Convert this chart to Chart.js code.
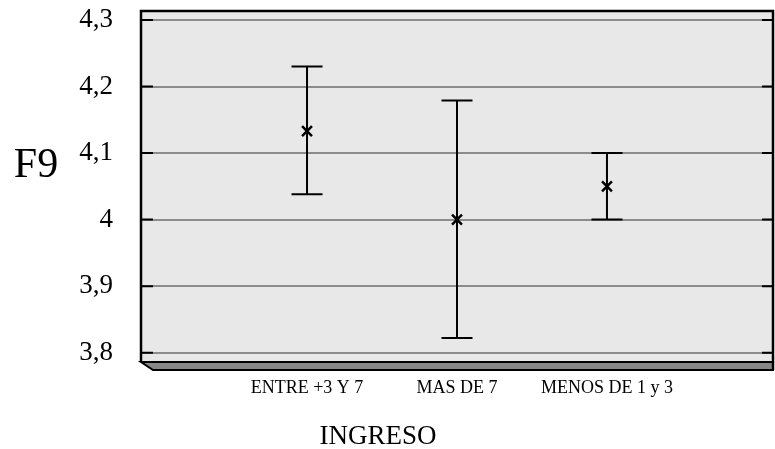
<!DOCTYPE html>
<html>
<head>
<meta charset="utf-8">
<script src="https://cdn.jsdelivr.net/npm/chart.js@4/dist/chart.umd.min.js"></script>
<style>
  html, body { margin: 0; padding: 0; background: #fff; }
  canvas { display: block; }
</style>
</head>
<body>
<canvas id="chart" width="775" height="449"></canvas>
<script>
// data
const categories = ['ENTRE +3 Y 7', 'MAS DE 7', 'MENOS DE 1 y 3'];
const means = [4.133, 4.0, 4.05];
const upper = [4.23, 4.179, 4.1];
const lower = [4.038, 3.822, 4.0];
const yTicks = [3.8, 3.9, 4.0, 4.1, 4.2, 4.3];
const yTickLabels = ['3,8', '3,9', '4', '4,1', '4,2', '4,3'];
const yTitle = 'F9';
const xTitle = 'INGRESO';

const FONT = '"Liberation Serif", "Times New Roman", serif';

// plot frame, 3d floor, inner tick marks, error bars
const framePlugin = {
    id: 'frame',
    beforeDraw(chart) {
        const { ctx, chartArea: a } = chart;
        ctx.save();
        ctx.fillStyle = '#e8e8e8';
        ctx.fillRect(a.left, a.top, a.right - a.left, a.bottom - a.top);
        ctx.restore();
    },
    beforeDatasetsDraw(chart) {
        const { ctx, chartArea: a, scales } = chart;
        const y = scales.y;
        const x = scales.x;
        ctx.save();

        // floor
        const depth = 8;
        const slant = 12;
        ctx.beginPath();
        ctx.moveTo(a.left, a.bottom);
        ctx.lineTo(a.right, a.bottom);
        ctx.lineTo(a.right, a.bottom + depth);
        ctx.lineTo(a.left + slant, a.bottom + depth);
        ctx.closePath();
        ctx.fillStyle = '#888888';
        ctx.fill();
        ctx.lineWidth = 2;
        ctx.strokeStyle = '#000';
        ctx.stroke();

        // walls
        ctx.lineWidth = 2.5;
        ctx.beginPath();
        ctx.moveTo(a.left, a.bottom);
        ctx.lineTo(a.left, a.top);
        ctx.lineTo(a.right, a.top);
        ctx.lineTo(a.right, a.bottom + depth);
        ctx.stroke();

        // short tick marks inside both walls
        ctx.lineWidth = 2;
        yTicks.forEach(v => {
            const py = y.getPixelForValue(v);
            ctx.beginPath();
            ctx.moveTo(a.left, py);
            ctx.lineTo(a.left + 12, py);
            ctx.moveTo(a.right - 11, py);
            ctx.lineTo(a.right, py);
            ctx.stroke();
        });

        // error bars
        const cap = 15.5;
        ctx.lineWidth = 2;
        categories.forEach((c, i) => {
            const px = x.getPixelForValue(i + 1);
            const top = y.getPixelForValue(upper[i]);
            const bot = y.getPixelForValue(lower[i]);
            ctx.beginPath();
            ctx.moveTo(px, top);
            ctx.lineTo(px, bot);
            ctx.moveTo(px - cap, top);
            ctx.lineTo(px + cap, top);
            ctx.moveTo(px - cap, bot);
            ctx.lineTo(px + cap, bot);
            ctx.stroke();
        });
        ctx.restore();
    },
    afterDraw(chart) {
        const { ctx } = chart;
        ctx.save();
        ctx.fillStyle = '#000';
        ctx.textAlign = 'center';
        ctx.textBaseline = 'middle';
        ctx.font = '42px ' + FONT;
        ctx.fillText(yTitle, 36, 166);
        ctx.font = '27px ' + FONT;
        ctx.fillText(xTitle, 378, 437);
        ctx.restore();
    }
};

new Chart(document.getElementById('chart'), {
    type: 'scatter',
    data: {
        datasets: [{
            data: means.map((m, i) => ({ x: i + 1, y: m })),
            pointStyle: 'crossRot',
            pointRadius: 7,
            pointBorderWidth: 2.5,
            borderColor: '#000',
            backgroundColor: '#000',
        }],
    },
    options: {
        responsive: false,
        animation: false,
        events: [],
        layout: {
            autoPadding: false,
            padding: { top: 11, right: 2, left: 0, bottom: 0 },
        },
        plugins: {
            legend: { display: false },
            tooltip: { enabled: false },
        },
        scales: {
            x: {
                type: 'linear',
                position: 'bottom',
                min: -0.107,
                max: 4.107,
                grid: { display: false },
                border: { display: false },
                afterBuildTicks: scale => {
                    scale.ticks = categories.map((c, i) => ({ value: i + 1 }));
                },
                ticks: {
                    color: '#000',
                    font: { family: FONT, size: 18 },
                    padding: 7,
                    maxRotation: 0,
                    autoSkip: false,
                    callback: value => categories[value - 1],
                },
                afterFit: scale => {
                    scale.height = 87;
                    scale.paddingLeft = 0;
                    scale.paddingRight = 0;
                },
            },
            y: {
                min: 3.786,
                max: 4.3135,
                grid: {
                    color: '#8c8c8c',
                    lineWidth: 2,
                    drawTicks: false,
                },
                border: { display: false },
                afterBuildTicks: scale => {
                    scale.ticks = yTicks.map(v => ({ value: v }));
                },
                ticks: {
                    color: '#000',
                    font: { family: FONT, size: 27 },
                    padding: 28,
                    callback: (value, index) => yTickLabels[index],
                },
                afterFit: scale => {
                    scale.width = 141;
                    scale.paddingTop = 0;
                    scale.paddingBottom = 0;
                },
            },
        },
    },
    plugins: [framePlugin],
});
</script>
</body>
</html>
